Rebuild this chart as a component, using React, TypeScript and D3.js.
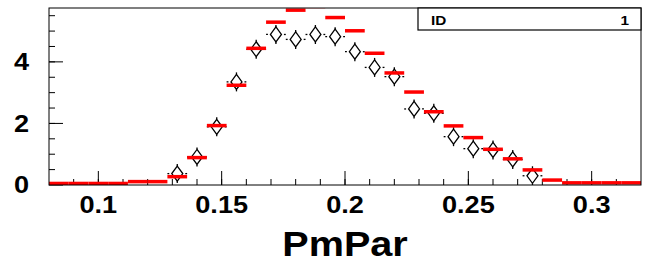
import React from 'react';
import * as d3 from 'd3';

// bin low edges (width 0.008)
const binLow = [
  0.080, 0.088, 0.096, 0.104, 0.112, 0.120, 0.128, 0.136, 0.144, 0.152,
  0.160, 0.168, 0.176, 0.184, 0.192, 0.200, 0.208, 0.216, 0.224, 0.232,
  0.240, 0.248, 0.256, 0.264, 0.272, 0.280, 0.288, 0.296, 0.304, 0.312,
];
const binWidth = 0.008;

// red histogram
const histValues = [
  0.05, 0.05, 0.05, 0.05, 0.11, 0.11, 0.27, 0.89, 1.93, 3.24,
  4.44, 5.29, 5.68, 5.80, 5.44, 5.01, 4.28, 3.64, 3.02, 2.38,
  1.92, 1.54, 1.16, 0.85, 0.49, 0.16, 0.07, 0.07, 0.07, 0.07,
];

// open diamond points (null = empty bin)
const dataValues = [
  null, null, null, null, null, null, 0.37, 0.91, 1.89, 3.35,
  4.41, 4.89, 4.73, 4.89, 4.82, 4.33, 3.82, 3.52, 2.47, 2.33,
  1.57, 1.18, 1.14, 0.83, 0.30, null, null, null, null, null,
];

const xTickLabels = [0.1, 0.15, 0.2, 0.25, 0.3];
const yTickLabels = [0, 2, 4];
const statsRows = [['ID', '1']];
const xTitle = 'PmPar';

// ROOT output was resampled a bit wider than tall, so glyphs look stretched
const stretch = 1.18;

export default function App() {
  const width = 648;
  const height = 263;
  const frame = { left: 49, right: 641, top: 8, bottom: 185 };

  const x = d3.scaleLinear().domain([0.08, 0.32]).range([frame.left, frame.right]);
  const y = d3.scaleLinear().domain([0, 5.75]).range([frame.bottom, frame.top]);

  const xMinor = d3.range(0.09, 0.3195, 0.01);
  const yMinor = d3.range(0.5, 5.75, 0.5);
  const font = '"Liberation Sans", Arial, Helvetica, sans-serif';

  const at = (tx: number, ty: number, sx = stretch) => `translate(${tx},${ty}) scale(${sx},1)`;

  return (
    <svg width={width} height={height} style={{ position: 'absolute', left: 0, top: 0 }}>
      <defs>
        <clipPath id="frame-clip">
          <rect x={frame.left} y={frame.top} width={frame.right - frame.left} height={frame.bottom - frame.top} />
        </clipPath>
      </defs>
      <rect width={width} height={height} fill="white" />

      {/* ticks */}
      <g stroke="black" strokeWidth={1}>
        {xMinor.map((v, i) => (
          <line key={`xm-${i}`} x1={x(v)} x2={x(v)} y1={frame.bottom} y2={frame.bottom - 6} />
        ))}
        {xTickLabels.map((v) => (
          <line key={`xM-${v}`} x1={x(v)} x2={x(v)} y1={frame.bottom} y2={frame.bottom - 14} />
        ))}
        {yMinor.map((v, i) => (
          <line key={`ym-${i}`} x1={frame.left} x2={frame.left + 6} y1={y(v)} y2={y(v)} />
        ))}
        {yTickLabels.map((v) => (
          <line key={`yM-${v}`} x1={frame.left} x2={frame.left + 14} y1={y(v)} y2={y(v)} />
        ))}
      </g>

      {/* data points */}
      <g clipPath="url(#frame-clip)" stroke="black" strokeWidth={1.3} fill="none">
        {dataValues.map((v, i) => {
          if (v === null) return null;
          const x0 = x(binLow[i]);
          const x1 = x(binLow[i] + binWidth);
          const cx = (x0 + x1) / 2;
          const cy = y(v);
          return (
            <g key={`pt-${i}`}>
              <line x1={x0} x2={cx - 8} y1={cy} y2={cy} />
              <line x1={cx + 8} x2={x1} y1={cy} y2={cy} />
              <line x1={cx} x2={cx} y1={cy - 9.5} y2={cy - 7.5} />
              <line x1={cx} x2={cx} y1={cy + 7.5} y2={cy + 9.5} />
              <path d={`M${cx},${cy - 7.5}L${cx + 5.5},${cy}L${cx},${cy + 7.5}L${cx - 5.5},${cy}Z`} />
            </g>
          );
        })}
      </g>

      {/* red histogram */}
      <g clipPath="url(#frame-clip)" stroke="#ff0000" strokeWidth={3.5}>
        {histValues.map((v, i) => (
          <line key={`h-${i}`} x1={x(binLow[i])} x2={x(binLow[i] + binWidth)} y1={y(v)} y2={y(v)} />
        ))}
      </g>

      {/* frame */}
      <rect x={frame.left} y={frame.top} width={frame.right - frame.left} height={frame.bottom - frame.top}
        fill="none" stroke="black" strokeWidth={1} />

      {/* stats box */}
      <g>
        <rect x={418} y={frame.top} width={frame.right - 418} height={22} fill="white" stroke="black" strokeWidth={1.2} />
        {statsRows.map(([k, v]) => (
          <g key={k} fontFamily={font} fontWeight="bold" fontSize={13}>
            <text transform={at(431, 25)}>{k}</text>
            <text transform={at(629, 25)} textAnchor="end">{v}</text>
          </g>
        ))}
      </g>

      {/* tick labels */}
      <g fontFamily={font} fontWeight="bold" fontSize={23} fill="black">
        {xTickLabels.map((v) => (
          <text key={`xl-${v}`} transform={at(x(v), 213)} textAnchor="middle">{String(v)}</text>
        ))}
        {yTickLabels.map((v) => (
          <text key={`yl-${v}`} transform={at(29, y(v))} dy="0.36em" textAnchor="end">{String(v)}</text>
        ))}
      </g>

      <text transform={at((frame.left + frame.right) / 2, 256, 1.1)} textAnchor="middle"
        fontFamily={font} fontWeight="bold" fontSize={36}>
        {xTitle}
      </text>
    </svg>
  );
}
